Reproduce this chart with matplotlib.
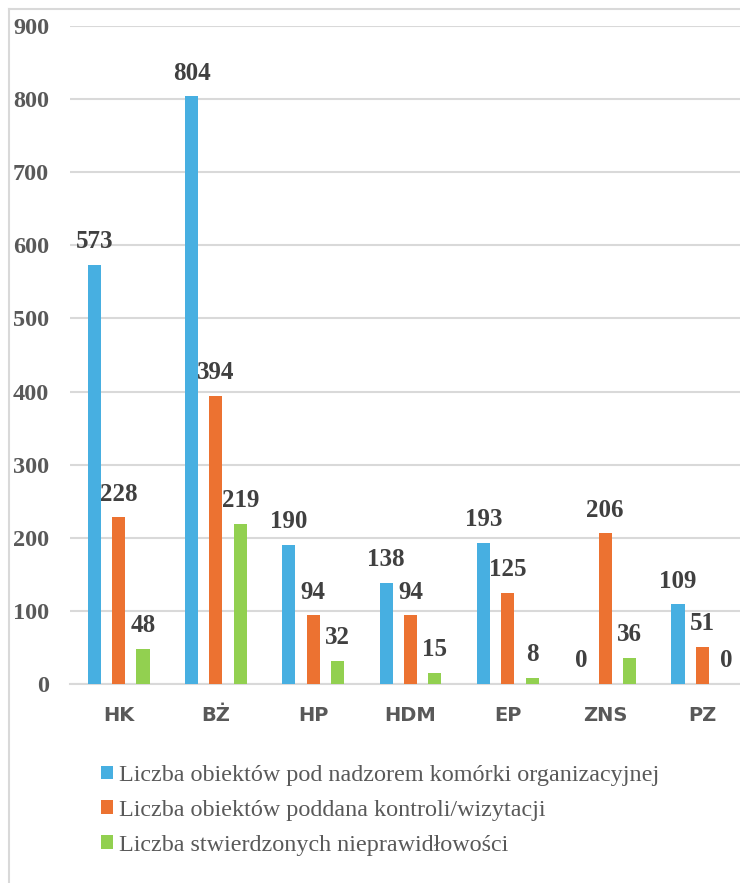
import matplotlib
matplotlib.use("Agg")
import matplotlib.pyplot as plt
from matplotlib.patches import Patch
from matplotlib.lines import Line2D
import numpy as np

categories = ["HK", "BŻ", "HP", "HDM", "EP", "ZNS", "PZ"]
series_names = [
    "Liczba obiektów pod nadzorem komórki organizacyjnej",
    "Liczba obiektów poddana kontroli/wizytacji",
    "Liczba stwierdzonych nieprawidłowości",
]
nadzor = [573, 804, 190, 138, 193, 0, 109]
kontrola = [228, 394, 94, 94, 125, 206, 51]
nieprawidlowosci = [48, 219, 32, 15, 8, 36, 0]
yticks = [0, 100, 200, 300, 400, 500, 600, 700, 800, 900]

colors = ["#47AFE1", "#EC7231", "#92D050"]
W, H = 740, 883
fig = plt.figure(figsize=(W / 100, H / 100), dpi=100)

ax = fig.add_axes([70 / W, (H - 684) / H, 681 / W, 658 / H])
x = np.arange(len(categories))
offs = [-0.25, 0.0, 0.25]
bw = 0.135
for vals, off, c in zip([nadzor, kontrola, nieprawidlowosci], offs, colors):
    bars = ax.bar(x + off, vals, width=bw, color=c, zorder=3)
    for rect, v in zip(bars, vals):
        ax.annotate(str(v), (rect.get_x() + rect.get_width() / 2, v),
                    xytext=(0, 12), textcoords="offset points",
                    ha="center", va="baseline", fontsize=18,
                    fontweight="bold", family="Liberation Serif",
                    color="#404040", zorder=5)

ax.set_xlim(-0.5, len(categories) - 0.5)
ax.set_ylim(0, 900)
ax.set_yticks(yticks)
ax.set_yticklabels([str(t) for t in yticks], fontsize=17.5, fontweight="bold",
                   family="Liberation Serif", color="#595959")
ax.set_xticks(x)
ax.set_xticklabels(categories, fontsize=14, fontweight="bold",
                   family="DejaVu Sans", color="#595959")
ax.tick_params(axis="y", length=0, pad=15)
ax.tick_params(axis="x", length=0, pad=16)
ax.grid(axis="y", color="#D9D9D9", linewidth=1.5, zorder=0)
for s in ["top", "right", "left"]:
    ax.spines[s].set_visible(False)
ax.spines["bottom"].set_color("#D9D9D9")
ax.spines["bottom"].set_linewidth(1.5)

# chart border
fig.add_artist(Line2D([9 / W, 1.0], [(H - 9) / H, (H - 9) / H],
                      transform=fig.transFigure, color="#D9D9D9", linewidth=1.5))
fig.add_artist(Line2D([9 / W, 9 / W], [0, (H - 9) / H],
                      transform=fig.transFigure, color="#D9D9D9", linewidth=1.5))

handles = [Patch(facecolor=c, edgecolor="none") for c in colors]
leg = fig.legend(handles, series_names, loc="upper left",
                 bbox_to_anchor=(101 / W, (H - 765) / H), frameon=False,
                 prop={"family": "Liberation Serif", "size": 17.4},
                 handlelength=0.5, handleheight=0.5, handletextpad=0.25,
                 labelspacing=0.57, borderaxespad=0, borderpad=0)
for t in leg.get_texts():
    t.set_color("#595959")

fig.savefig("out.png", dpi=100)
